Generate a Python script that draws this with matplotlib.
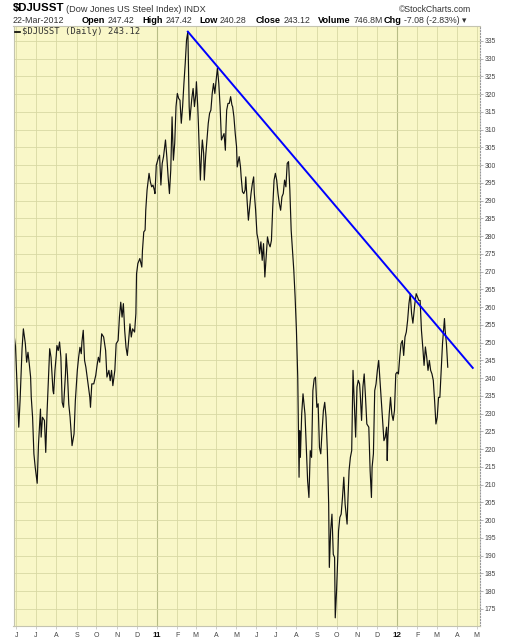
import pandas as pd
import matplotlib
matplotlib.use("Agg")
import matplotlib.pyplot as plt

plt.rcParams["font.family"] = ["Liberation Sans", "DejaVu Sans"]

# daily closes of $DJUSST, time as days after 2010-06-01
start = pd.Timestamp("2010-06-01")
days = [
    -4, -3, -1, 4, 6, 9, 11, 14, 16, 18, 20, 22, 23, 25, 27, 29, 32, 34, 37, 38,
    40, 43, 45, 47, 49, 51, 53, 56, 57, 59, 61, 62, 64, 66, 68, 70, 72, 75, 76, 78,
    80, 82, 84, 85, 88, 90, 93, 95, 97, 99, 100, 102, 104, 106, 108, 110, 112, 113, 115, 118,
    121, 123, 125, 127,
    130, 133, 136, 138, 141, 143, 145, 147, 150, 152, 155, 157, 159, 161, 163, 165, 167, 169, 171, 173,
    175, 177, 180, 182, 183, 185, 188, 191, 192, 194, 196, 197, 199, 202, 204, 206, 208, 210, 211, 213,
    216, 218, 220, 222, 224, 227, 229, 231, 233, 235, 237, 239, 241, 243, 245, 247, 249, 251, 253, 255,
    257, 259, 261,
    263, 264, 267, 269, 271, 273, 274, 276, 277, 278, 280, 282, 283, 285, 286, 288, 290, 292, 294, 296,
    298, 300, 302, 304, 306, 308, 310, 312, 314, 316, 318, 319, 320, 322, 324, 326, 328, 329, 331, 333,
    335, 336, 338, 339, 341, 342, 344, 346, 348, 349, 351, 353, 355, 357, 359, 361, 362, 364, 366, 368,
    370, 372, 374, 376, 378, 380, 382, 384, 386, 388, 390, 392,
    394, 396, 398, 400, 402, 404, 406, 408, 410, 412, 414, 416, 418, 420, 422, 424, 426, 428, 429, 430,
    431, 432, 434, 436, 439, 441, 443, 445, 447, 449, 451, 453, 455, 457, 459, 461, 463, 465, 467, 469,
    471, 473, 475, 476, 478, 480, 482, 484,
    485, 487, 489, 490, 492, 494, 496, 498, 500, 502, 503, 504, 506, 508, 510, 512, 514, 516, 518, 520,
    522, 523, 525, 527, 529, 531, 533, 536, 538, 540, 541, 543, 545, 547, 549, 551, 553, 555, 557, 559,
    561, 563, 564, 565, 567, 569, 571, 573, 575, 577, 579, 581, 583, 585, 587, 589, 591, 593, 595, 597,
    599, 601,
    603, 606, 608, 610, 612, 614, 616, 618, 620, 622, 624, 626, 628, 630, 632, 634, 636, 638, 640, 642,
    644, 646, 648, 650, 651, 652, 654, 656,
]
close = [
    240.0, 252.0, 249.0, 226.2, 233.7, 248.3, 253.9, 249.7, 244.5, 247.3, 244.0, 240.3, 234.6, 229.0, 218.7, 214.9, 210.4, 221.5, 231.3, 223.4,
    229.0, 228.1, 219.1, 230.4, 239.3, 248.3, 245.9, 236.5, 235.6, 242.2, 246.4, 249.2, 247.8, 250.2, 245.9, 233.2, 231.8, 241.2, 246.9, 241.2,
    232.7, 229.0, 223.8, 221.0, 224.3, 233.7, 242.2, 245.9, 248.7, 246.9, 250.2, 253.5, 245.0, 243.1, 240.3, 237.5, 234.6, 231.8, 238.4, 238.4,
    240.8, 243.6, 245.9, 244.5,
    252.5, 251.6, 247.8, 240.3, 242.2, 239.3, 242.2, 237.9, 242.2, 249.7, 250.6, 257.2, 261.4, 257.2, 261.0, 253.4, 248.7, 246.4, 250.6, 255.3,
    251.6, 253.9, 253.0, 258.2, 269.4, 272.3, 273.7, 271.3, 276.0, 281.2, 281.7, 287.3, 293.0, 297.7, 295.3, 293.9, 294.4, 293.0, 292.0, 300.0,
    301.9, 302.8, 294.4, 300.5, 302.4, 307.1, 302.4, 296.7, 292.0, 298.6, 313.6, 301.4, 306.1, 316.5, 320.2, 318.8, 318.3, 311.8, 316.5, 323.0,
    328.7, 335.3, 337.6,
    316.5, 312.7, 318.8, 321.6, 316.5, 319.8, 323.5, 316.5, 311.8, 306.1, 295.8, 304.2, 307.1, 303.3, 295.8, 302.4, 307.1, 311.8, 314.6, 315.5,
    320.2, 323.0, 320.2, 324.0, 327.3, 323.0, 316.5, 307.1, 308.0, 308.9, 304.2, 310.8, 315.5, 317.4, 317.4, 319.3, 316.9, 316.5, 313.6, 308.9,
    305.2, 299.5, 301.4, 302.4, 299.5, 296.7, 292.5, 292.0, 293.0, 296.7, 290.1, 284.5, 288.2, 292.0, 294.8, 296.7, 292.0, 287.3, 280.7, 278.8,
    275.1, 278.4, 273.2, 277.9, 268.5, 274.1, 279.8, 277.9, 277.0, 278.8, 288.2, 295.8,
    297.7, 295.8, 292.0, 289.2, 287.3, 291.1, 292.0, 295.8, 293.9, 300.5, 301.0, 293.0, 281.7, 276.0, 270.4, 262.9, 253.5, 240.3, 225.2, 212.1,
    225.2, 217.7, 229.9, 235.6, 229.9, 220.5, 211.1, 206.4, 219.6, 217.7, 236.5, 239.8, 240.3, 231.8, 232.8, 220.5, 218.7, 225.2, 230.9, 233.2,
    229.0, 219.6, 204.5, 186.7, 197.0, 201.7, 190.4, 189.5,
    172.5, 180.1, 190.4, 197.0, 200.8, 201.7, 206.4, 212.1, 204.5, 200.8, 198.9, 204.5, 214.0, 217.7, 219.6, 242.2, 232.8, 223.4, 237.5, 239.4,
    238.4, 235.6, 228.1, 237.5, 241.2, 234.6, 227.1, 226.2, 214.0, 206.4, 214.9, 218.7, 236.5, 238.4, 242.2, 245.0, 239.4, 233.7, 228.1, 222.4,
    223.4, 226.2, 216.8, 223.4, 229.9, 234.6, 229.9, 228.1, 230.9, 241.2, 241.7, 241.2, 245.9, 249.7, 250.6, 246.4, 251.6, 253.0, 256.3, 261.0,
    263.8, 258.2,
    255.5, 261.0, 263.8, 262.9, 261.9, 261.9, 253.5, 248.8, 243.6, 248.8, 245.9, 242.2, 245.0, 242.2, 241.2, 239.4, 233.7, 227.1, 229.0, 234.6,
    234.6, 242.2, 249.7, 254.4, 256.8, 253.5, 249.7, 243.1,
]

# hand drawn trend line (peak Feb 2011 -> late Apr 2012)
trend_days = [261, 694]
trend_close = [337.6, 242.9]

header_fields = [("Open", "247.42"), ("High", "247.42"), ("Low", "240.28"),
                 ("Close", "243.12"), ("Volume", "746.8M"), ("Chg", "-7.08 (-2.83%) \u25be")]
last_close = "243.12"

dates = start + pd.to_timedelta(days, unit="D")
trend_dates = start + pd.to_timedelta(trend_days, unit="D")
months = pd.date_range("2010-06-01", "2012-05-01", freq="MS")
month_labels = [m.strftime("%y") if m.month == 1 else m.strftime("%b")[0] for m in months]

W, H = 512, 640
fig = plt.figure(figsize=(W / 100, H / 100), dpi=100)
ax = fig.add_axes([13.5 / W, 14 / H, 466.5 / W, 600 / H])
ax.set_facecolor("#f9f7c8")

ax.plot(dates, close, color="#111111", lw=0.85)
ax.plot(trend_dates, trend_close, color="#0000ff", lw=1.4)

ax.set_xlim(start - pd.Timedelta(days=4), start + pd.Timedelta(days=705))
ax.set_ylim(170.2, 339.2)

ax.set_yticks(range(175, 340, 5))
ax.yaxis.tick_right()
ax.tick_params(axis="y", labelsize=4.9, labelcolor="#444444", length=2, width=0.5,
               color="#999999", pad=1.5)

ax.set_xticks(months)
ax.set_xticklabels(month_labels)
ax.tick_params(axis="x", labelsize=5, labelcolor="#444444", length=2, width=0.5,
               color="#bbbbbb", pad=2.5)
for lbl, m in zip(ax.get_xticklabels(), months):
    if m.month == 1:
        lbl.set_fontweight("bold")
        lbl.set_fontsize(5.8)
        lbl.set_color("#111111")

ax.grid(True, color="#d8d8a4", lw=0.6)
for gl, m in zip(ax.get_xgridlines(), months):
    if m.month == 1:
        gl.set_color("#b8bd86")
        gl.set_linewidth(0.8)

for s in ax.spines.values():
    s.set_color("#c4c4b0")
    s.set_linewidth(0.8)
ax.spines["right"].set_linestyle(":")
ax.spines["right"].set_color("#999999")


def px(x, y):
    return x / W, 1 - y / H


# header line 1
fig.text(*px(13, 11.5), "$DJUSST", fontsize=8.2, fontweight="bold", va="baseline")
fig.text(*px(66, 11.5), "(Dow Jones US Steel Index) INDX", fontsize=6.6, color="#333333", va="baseline")
fig.text(*px(471, 11.5), "\u00a9StockCharts.com", fontsize=6.2, color="#333333", va="baseline", ha="right")

# header line 2: date, then bold labels each followed by its value
fig.text(*px(13, 23), "22-Mar-2012", fontsize=6.4, color="#333333", va="baseline")
renderer = fig.canvas.get_renderer()
label_x = [81.7, 142.7, 199, 255.7, 318.3, 384]
for x, (name, value) in zip(label_x, header_fields):
    t = fig.text(*px(x, 23), name, fontsize=6.6, fontweight="bold", va="baseline")
    end = t.get_window_extent(renderer).x1
    fig.text(end / W + 2.5 / W, 1 - 23 / H, value, fontsize=6.3, color="#333333", va="baseline")

# legend inside the plot
fig.lines.append(plt.Line2D([15 / W, 20 / W], [1 - 31.5 / H, 1 - 31.5 / H],
                            transform=fig.transFigure, color="black", lw=1.2))
fig.text(*px(22, 34.5), "$DJUSST (Daily) " + last_close, fontsize=6.4,
         family="DejaVu Sans Mono", color="#333333", va="baseline")

fig.savefig("out.png", dpi=100)
